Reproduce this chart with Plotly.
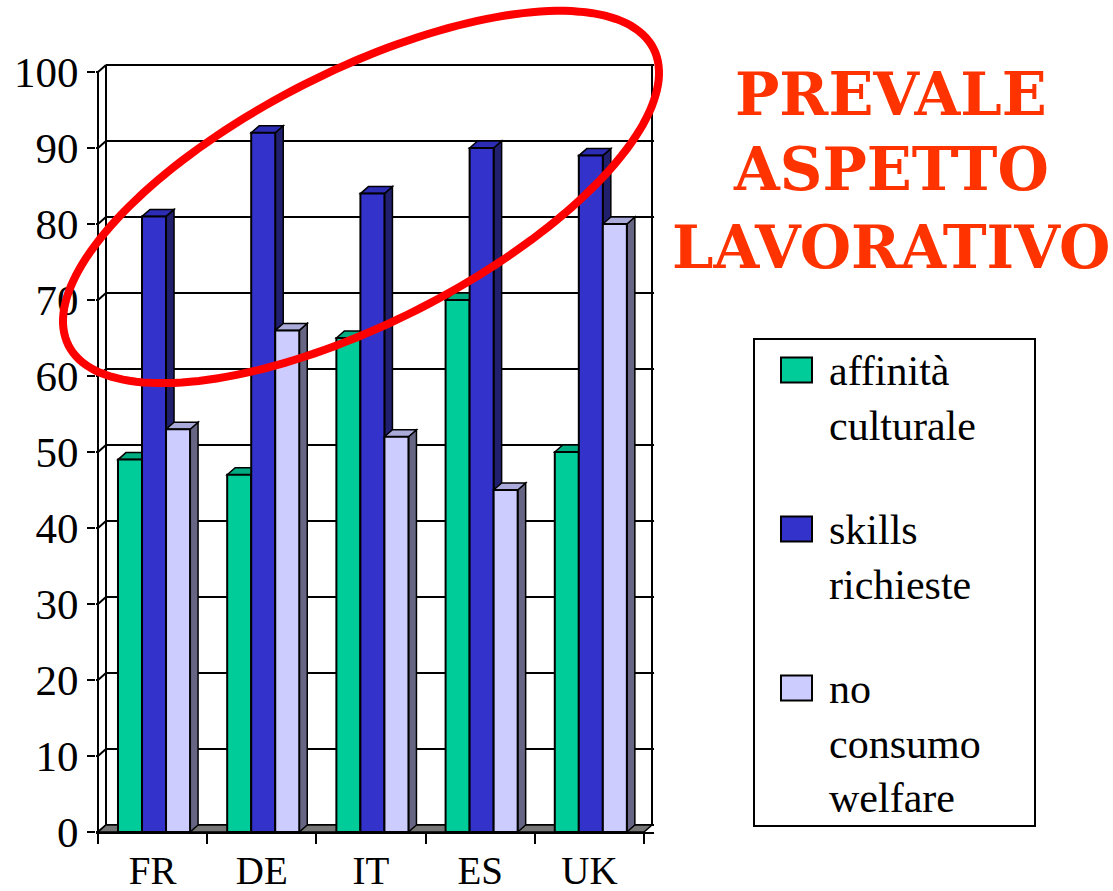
import numpy as np
import plotly.graph_objects as go

# ---------------- data ----------------
categories = ["FR", "DE", "IT", "ES", "UK"]
affinita_culturale = [49, 47, 65, 70, 50]
skills_richieste = [81, 92, 84, 90, 89]
no_consumo_welfare = [53, 66, 52, 45, 80]
series_names = ["affinità<br>culturale", "skills<br>richieste", "no<br>consumo<br>welfare"]
y_tick_values = [0, 10, 20, 30, 40, 50, 60, 70, 80, 90, 100]
callout_lines = ["PREVALE", "ASPETTO", "LAVORATIVO"]

series_values = [affinita_culturale, skills_richieste, no_consumo_welfare]

# ---------------- style ----------------
front_colors = ["#00CC99", "#3333CC", "#CCCCFF"]
side_colors = ["#008866", "#20206E", "#666684"]
top_colors = ["#00AD82", "#2C2CB4", "#ABABDB"]
SERIF = "Liberation Serif"
SERIF_BOLD = "DejaVu Serif"

W, H = 1113, 891
UX = 109.2          # px per category unit
UY = 7.6            # px per value unit
DX = 8 / UX         # 3D depth offset in data units
DY = 7 / UY
x_min = -0.5 - 2 / UX
x_max = 4.5 + DX + 2 / UX
plot_w = (x_max - x_min) * UX
plot_h = 770
y_max = plot_h / UY
ML = 96
MB = 59
MR = W - ML - plot_w
MT = H - MB - plot_h

bar_w = 0.22
offsets = [-0.317, -0.097, 0.123]
xpos = np.arange(len(categories))


def px2paper_x(px):
    return (px - ML) / plot_w


def px2paper_y(py):
    return (H - MB - py) / plot_h


fig = go.Figure()
shapes = []

# back wall grid + frame
for v in y_tick_values:
    shapes.append(dict(type="line", xref="x", yref="y", layer="below",
                       x0=x_min + DX + 2 / UX, x1=x_max, y0=v + DY, y1=v + DY,
                       line=dict(color="black", width=2)))
    shapes.append(dict(type="path", xref="x", yref="y", layer="below",
                       path=f"M{x_min},{v} L{-0.5},{v} L{-0.5 + DX},{v + DY}",
                       line=dict(color="black", width=2)))
shapes.append(dict(type="line", xref="x", yref="y", layer="below",
                   x0=-0.5 + DX, x1=-0.5 + DX, y0=DY, y1=100 + DY,
                   line=dict(color="black", width=2)))
shapes.append(dict(type="line", xref="x", yref="y", layer="below",
                   x0=x_max - 2 / UX, x1=x_max - 2 / UX, y0=DY, y1=100 + DY,
                   line=dict(color="black", width=2)))
shapes.append(dict(type="line", xref="x", yref="y", layer="below",
                   x0=-0.5, x1=-0.5, y0=0, y1=100,
                   line=dict(color="black", width=2)))
# floor
shapes.append(dict(type="path", xref="x", yref="y", layer="between",
                   path=f"M{-0.5},0 L{4.5},0 L{4.5 + DX},{DY} L{-0.5 + DX},{DY} Z",
                   fillcolor="#767676", line=dict(color="black", width=1.5)))

# 3D faces of bars (side and top), computed from the data
for s, vals in enumerate(series_values):
    for i, v in enumerate(vals):
        x0 = xpos[i] + offsets[s]
        x1 = x0 + bar_w
        shapes.append(dict(type="path", xref="x", yref="y", layer="between",
                           path=f"M{x1},0 L{x1 + DX},{DY} L{x1 + DX},{v + DY} L{x1},{v} Z",
                           fillcolor=side_colors[s], line=dict(color="black", width=1.5)))
        shapes.append(dict(type="path", xref="x", yref="y", layer="between",
                           path=f"M{x0},{v} L{x0 + DX},{v + DY} L{x1 + DX},{v + DY} L{x1},{v} Z",
                           fillcolor=top_colors[s], line=dict(color="black", width=1.5)))

# front faces
for s, vals in enumerate(series_values):
    fig.add_trace(go.Bar(
        x=xpos, y=vals, name=series_names[s].replace("<br>", " "),
        offset=offsets[s], width=bar_w,
        marker=dict(color=front_colors[s], line=dict(color="black", width=2)),
        showlegend=False,
    ))

# red ellipse callout
cx, cy, a, b, th = 361, 197, 328, 126, np.radians(26.9)
t = np.linspace(0, 2 * np.pi, 181)
ex = cx + a * np.cos(t) * np.cos(th) + b * np.sin(t) * np.sin(th)
ey = cy - a * np.cos(t) * np.sin(th) + b * np.sin(t) * np.cos(th)
ell_path = "M" + " L".join(f"{px2paper_x(X):.4f},{px2paper_y(Y):.4f}" for X, Y in zip(ex, ey)) + " Z"
shapes.append(dict(type="path", xref="paper", yref="paper", layer="above",
                   path=ell_path, line=dict(color="#FF0000", width=8)))

# legend (custom box)
shapes.append(dict(type="rect", xref="paper", yref="paper", layer="above",
                   x0=px2paper_x(754), x1=px2paper_x(1035),
                   y0=px2paper_y(826), y1=px2paper_y(339),
                   line=dict(color="black", width=2)))
annotations = []
entry_centers = [370, 529, 688]
for s, name in enumerate(series_names):
    yc = entry_centers[s]
    shapes.append(dict(type="rect", xref="paper", yref="paper", layer="above",
                       x0=px2paper_x(781), x1=px2paper_x(812),
                       y0=px2paper_y(yc + 12.5), y1=px2paper_y(yc - 12.5),
                       fillcolor=front_colors[s], line=dict(color="black", width=2)))
    annotations.append(dict(xref="paper", yref="paper", x=px2paper_x(827), y=px2paper_y(yc - 24),
                            xanchor="left", yanchor="top", align="left", showarrow=False,
                            text=name, font=dict(family=SERIF, size=42, color="black")))

# callout text
for k, line in enumerate(callout_lines):
    annotations.append(dict(xref="paper", yref="paper", x=px2paper_x(891),
                            y=px2paper_y([94, 169, 247][k]),
                            xanchor="center", yanchor="middle", showarrow=False,
                            text=f"<b>{line}</b>",
                            font=dict(family=SERIF_BOLD, size=59, color="#FF3300")))

fig.update_layout(
    width=W, height=H,
    margin=dict(l=ML, r=MR, t=MT, b=MB, pad=0),
    paper_bgcolor="white", plot_bgcolor="white",
    barmode="overlay",
    showlegend=False,
    shapes=shapes,
    annotations=annotations,
    font=dict(family=SERIF, color="black"),
    xaxis=dict(range=[x_min, x_max], tickmode="array", tickvals=list(xpos), ticktext=categories,
               ticks="", showgrid=False, zeroline=False, showline=True, linecolor="black", linewidth=2,
               tickfont=dict(family=SERIF, size=39, color="black"), ticklabelstandoff=3,
               minor=dict(tickmode="array", tickvals=[-0.5, 0.5, 1.5, 2.5, 3.5, 4.5],
                          ticks="outside", ticklen=10, tickwidth=2, tickcolor="black", showgrid=False),
               automargin=False, fixedrange=True),
    yaxis=dict(range=[0, y_max], tickmode="array", tickvals=y_tick_values,
               ticks="outside", ticklen=8, tickwidth=2, tickcolor="black",
               showgrid=False, zeroline=False, showline=False,
               tickfont=dict(family=SERIF, size=43, color="black"), ticklabelstandoff=0,
               automargin=False, fixedrange=True),
)

fig.write_html("out.html", config={"displayModeBar": False},
               post_script="document.body.style.margin='0';document.body.style.overflow='hidden';")
